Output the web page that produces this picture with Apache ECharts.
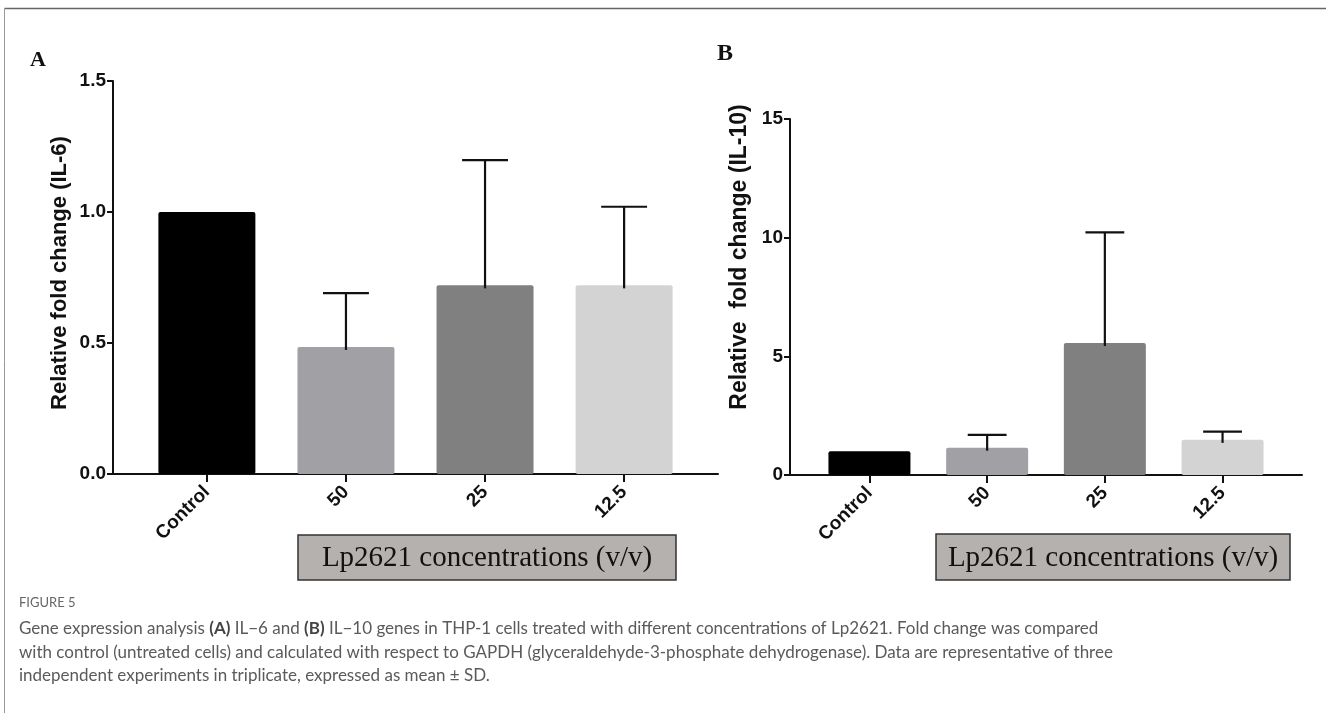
<!DOCTYPE html>
<html><head><meta charset="utf-8">
<script src="https://cdn.jsdelivr.net/npm/echarts@6/dist/echarts.min.js"></script>
<style>html,body{margin:0;padding:0;background:#fff}#c{width:1326px;height:713px}</style>
</head><body><div id="c"></div>
<script>
// ---- data ----
const categories = ['Control', '50', '25', '12.5'];
const il6Mean = [1.0, 0.485, 0.72, 0.72];
const il6SD = [0, 0.205, 0.478, 0.30];
const il10Mean = [1.0, 1.15, 5.56, 1.48];
const il10SD = [0, 0.54, 4.66, 0.35];
const barColors = ['#000000', '#a1a1a5', '#808080', '#d3d3d3'];
const il6Axis = { min: 0, max: 1.5, interval: 0.5, decimals: 1 };
const il10Axis = { min: 0, max: 15, interval: 5, decimals: 0 };
const boxLabel = 'Lp2621 concentrations (v/v)';
const captionHead = 'FIGURE 5';
const captionLines = [
  'Gene expression analysis {b|(A)} IL\u22126 and {b|(B)} IL\u221210 genes in THP-1 cells treated with different concentrations of Lp2621. Fold change was compared',
  'with control (untreated cells) and calculated with respect to GAPDH (glyceraldehyde-3-phosphate dehydrogenase). Data are representative of three',
  'independent experiments in triplicate, expressed as mean \u00b1 SD.'
];

const SANS = '"Liberation Sans", Arial, sans-serif';
const SERIF = '"Liberation Serif", "Times New Roman", serif';
const CAP = 'Lato, "Open Sans", sans-serif';

const chart = echarts.init(document.getElementById('c'), null, { renderer: 'canvas' });

function xAxisDef(gi) {
  return {
    type: 'value', gridIndex: gi, min: -0.675, max: 3.675,
    splitLine: { show: false },
    axisLine: { onZero: false, lineStyle: { color: '#111', width: 2 } },
    axisTick: { show: true, customValues: [0, 1, 2, 3], length: 8, lineStyle: { color: '#111', width: 2 } },
    axisLabel: {
      customValues: [0, 1, 2, 3], rotate: 45, margin: 15,
      formatter: v => categories[Math.round(v)],
      fontFamily: SANS, fontWeight: 'bold', fontSize: 19, color: '#111'
    }
  };
}
function yAxisDef(gi, ax) {
  return {
    type: 'value', gridIndex: gi, min: ax.min, max: ax.max, interval: ax.interval,
    splitLine: { show: false },
    axisLine: { show: true, onZero: false, lineStyle: { color: '#111', width: 2 } },
    axisTick: { show: true, length: 6, lineStyle: { color: '#111', width: 2 } },
    axisLabel: {
      margin: 7, formatter: v => Number(v).toFixed(ax.decimals),
      fontFamily: SANS, fontWeight: 'bold', fontSize: 19, color: '#111'
    }
  };
}
function barSeries(gi, means) {
  return {
    type: 'bar', xAxisIndex: gi, yAxisIndex: gi,
    barWidth: gi === 0 ? 97 : 82,
    data: means.map((m, i) => ({ value: [i, m], itemStyle: { color: barColors[i], borderRadius: 2 } })),
    silent: true, z: 2
  };
}
function errSeries(gi, means, sds) {
  const d = [];
  means.forEach((m, i) => { if (sds[i] > 0) d.push([i, m, m + sds[i]]); });
  return {
    type: 'custom', xAxisIndex: gi, yAxisIndex: gi, z: 3, silent: true,
    data: d,
    renderItem: function (params, api) {
      const x = api.value(0), lo = api.value(1), hi = api.value(2);
      const p0 = api.coord([x, lo]);
      const p1 = api.coord([x, hi]);
      const half = api.size([1, 0])[0] * 0.165;
      const st = { stroke: '#111', lineWidth: 2.2 };
      return {
        type: 'group', children: [
          { type: 'line', shape: { x1: p0[0], y1: p0[1] + 3, x2: p1[0], y2: p1[1] }, style: st },
          { type: 'line', shape: { x1: p1[0] - half, y1: p1[1], x2: p1[0] + half, y2: p1[1] }, style: st }
        ]
      };
    }
  };
}
function box(x, y, w, h) {
  return {
    type: 'group', x: x, y: y, children: [
      { type: 'rect', shape: { x: 0, y: 0, width: w, height: h }, style: { fill: '#b5b1ae', stroke: '#333', lineWidth: 1.5 } },
      { type: 'text', x: w / 2, y: h / 2 + 1, style: { text: boxLabel, fill: '#111', fontFamily: SERIF, fontSize: 29, align: 'center', verticalAlign: 'middle' } }
    ]
  };
}

const graphics = [
  { type: 'line', shape: { x1: 4.5, y1: 8.5, x2: 1326, y2: 8.5 }, style: { stroke: '#666', lineWidth: 1.5 } },
  { type: 'line', shape: { x1: 4.5, y1: 8.5, x2: 4.5, y2: 713 }, style: { stroke: '#999', lineWidth: 1 } },
  { type: 'text', x: 30, y: 60, style: { text: 'A', fontFamily: SERIF, fontWeight: 'bold', fontSize: 22, fill: '#111', verticalAlign: 'middle' } },
  { type: 'text', x: 717, y: 54, style: { text: 'B', fontFamily: SERIF, fontWeight: 'bold', fontSize: 24, fill: '#111', verticalAlign: 'middle' } },
  { type: 'text', x: 60, y: 273, rotation: Math.PI / 2, style: { text: 'Relative fold change (IL-6)', fontFamily: SANS, fontWeight: 'bold', fontSize: 22, fill: '#111', align: 'center', verticalAlign: 'middle' } },
  { type: 'text', x: 740, y: 257, rotation: Math.PI / 2, style: { text: 'Relative  fold change (IL-10)', fontFamily: SANS, fontWeight: 'bold', fontSize: 23, fill: '#111', align: 'center', verticalAlign: 'middle' } },
  box(298, 535, 378, 45),
  box(936, 534, 354, 46),
  { type: 'text', x: 19, y: 603, style: { text: captionHead, fontFamily: CAP, fontSize: 13, fill: '#666', verticalAlign: 'middle' } }
];
captionLines.forEach((t, i) => {
  graphics.push({
    type: 'text', x: 19, y: 629 + i * 23.5,
    style: { text: t, fontFamily: CAP, fontSize: 17, fill: '#5a5a5a', verticalAlign: 'middle',
      rich: { b: { fontFamily: CAP, fontSize: 17, fontWeight: 'bold', fill: '#444', verticalAlign: 'middle' } } }
  });
});

chart.setOption({
  animation: false,
  backgroundColor: '#fff',
  grid: [
    { left: 113, top: 81, width: 605, height: 393 },
    { left: 790, top: 119, width: 512, height: 356 }
  ],
  xAxis: [xAxisDef(0), xAxisDef(1)],
  yAxis: [yAxisDef(0, il6Axis), yAxisDef(1, il10Axis)],
  series: [
    barSeries(0, il6Mean), errSeries(0, il6Mean, il6SD),
    barSeries(1, il10Mean), errSeries(1, il10Mean, il10SD)
  ],
  graphic: graphics
});
</script>
</body></html>
